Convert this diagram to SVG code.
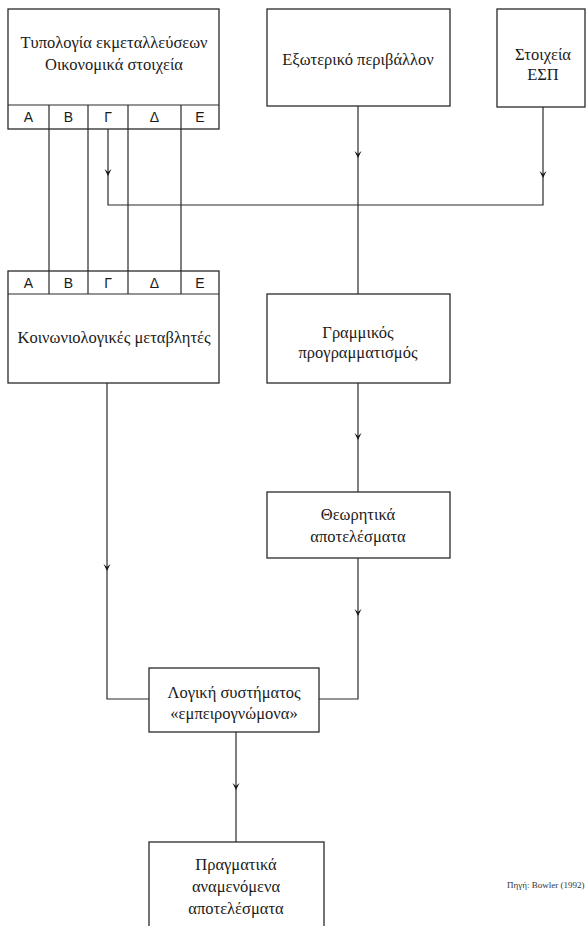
<svg xmlns="http://www.w3.org/2000/svg" width="587" height="926" viewBox="0 0 587 926">
<style>
.box{fill:none;stroke:#2a2a2a;stroke-width:1.3}
.ln{fill:none;stroke:#2a2a2a;stroke-width:1.2}
.t{font-family:"Liberation Serif","DejaVu Serif",serif;font-size:16.5px;fill:#1a1a1a;text-anchor:middle}
.c{font-family:"Liberation Sans","DejaVu Sans",sans-serif;font-size:14px;fill:#1a1a1a;text-anchor:middle}
.s{font-family:"Liberation Serif","DejaVu Serif",serif;font-size:9px;fill:#333}
</style>
<defs>
<path id="ah" d="M-3.5,-4 L0,3 L3.5,-4 L0,-1 Z" fill="#1a1a1a"/>
</defs>
<rect x="0" y="0" width="587" height="926" fill="#fff"/>
<g id="connectors">
<path class="ln" d="M49,129 V271 M88,129 V271 M128,129 V271 M181,129 V271"/>
<path class="ln" d="M108,129 V205 H543 V107"/>
<path class="ln" d="M358,106 V294"/>
<path class="ln" d="M358,383 V492"/>
<path class="ln" d="M358,558 V699 H319"/>
<path class="ln" d="M107,383 V699 H149"/>
<path class="ln" d="M236,732 V842"/>
<use href="#ah" x="108" y="173"/>
<use href="#ah" x="358" y="155"/>
<use href="#ah" x="543" y="175"/>
<use href="#ah" x="358" y="437"/>
<use href="#ah" x="358" y="613"/>
<use href="#ah" x="107" y="568"/>
<use href="#ah" x="236" y="787"/>
</g>
<g id="typology">
<rect class="box" x="8" y="9" width="211" height="120"/>
<path class="ln" d="M8,105 H219 M49,105 V129 M88,105 V129 M128,105 V129 M181,105 V129"/>
<text class="t" x="114" y="48">Τυπολογία εκμεταλλεύσεων</text>
<text class="t" x="114" y="70">Οικονομικά στοιχεία</text>
<text class="c" x="28.5" y="122">Α</text>
<text class="c" x="68.5" y="122">Β</text>
<text class="c" x="108" y="122">Γ</text>
<text class="c" x="154.5" y="122">Δ</text>
<text class="c" x="200" y="122">Ε</text>
</g>
<g id="external">
<rect class="box" x="267" y="9" width="183" height="97"/>
<text class="t" x="358" y="65">Εξωτερικό περιβάλλον</text>
</g>
<g id="esp">
<rect class="box" x="497" y="9" width="88" height="98"/>
<text class="t" x="543" y="60">Στοιχεία</text>
<text class="t" x="543" y="80">ΕΣΠ</text>
</g>
<g id="social">
<rect class="box" x="8" y="271" width="211" height="112"/>
<path class="ln" d="M8,294 H219 M49,271 V294 M88,271 V294 M128,271 V294 M181,271 V294"/>
<text class="c" x="28.5" y="288">Α</text>
<text class="c" x="68.5" y="288">Β</text>
<text class="c" x="108" y="288">Γ</text>
<text class="c" x="154.5" y="288">Δ</text>
<text class="c" x="200" y="288">Ε</text>
<text class="t" x="114" y="343">Κοινωνιολογικές μεταβλητές</text>
</g>
<g id="linear">
<rect class="box" x="267" y="294" width="183" height="89"/>
<text class="t" x="358" y="338">Γραμμικός</text>
<text class="t" x="358" y="358">προγραμματισμός</text>
</g>
<g id="theoretical">
<rect class="box" x="267" y="492" width="183" height="66"/>
<text class="t" x="358" y="520">Θεωρητικά</text>
<text class="t" x="358" y="542">αποτελέσματα</text>
</g>
<g id="expert">
<rect class="box" x="149" y="668" width="170" height="64"/>
<text class="t" x="234" y="698">Λογική συστήματος</text>
<text class="t" x="234" y="719">«εμπειρογνώμονα»</text>
</g>
<g id="actual">
<rect class="box" x="149" y="842" width="175" height="100"/>
<text class="t" x="236" y="870">Πραγματικά</text>
<text class="t" x="236" y="892">αναμενόμενα</text>
<text class="t" x="236" y="914">αποτελέσματα</text>
</g>
<text class="s" x="507" y="888">Πηγή: Bowler (1992)</text>
</svg>
